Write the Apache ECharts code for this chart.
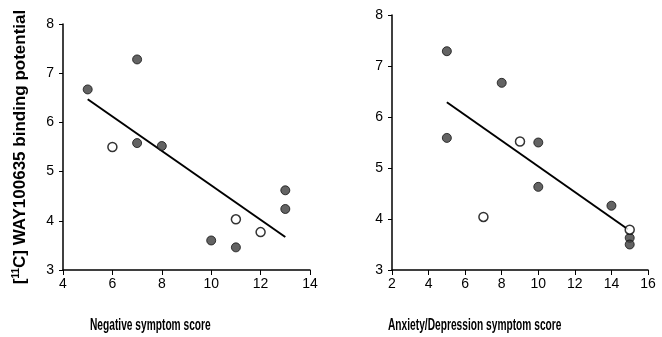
<!DOCTYPE html>
<html>
<head>
<meta charset="utf-8">
<script src="https://cdn.jsdelivr.net/npm/echarts@6/dist/echarts.min.js"></script>
<style>
  html, body { margin: 0; padding: 0; background: #fff; }
  #chart { width: 662px; height: 337px; }
</style>
</head>
<body>
<div id="chart"></div>
<script>
// negative symptom panel
const negFilledX = [5, 7, 7, 8, 10, 11, 13, 13];
const negFilledY = [6.67, 7.28, 5.58, 5.52, 3.6, 3.46, 4.62, 4.24];
const negOpenX = [6, 11, 12];
const negOpenY = [5.5, 4.03, 3.77];
const negFitX = [5, 13];
const negFitY = [6.47, 3.67];

// anxiety/depression panel
const anxFilledX = [5, 5, 8, 10, 10, 14, 15, 15];
const anxFilledY = [7.29, 5.59, 6.67, 5.5, 4.63, 4.26, 3.63, 3.5];
const anxOpenX = [9, 7, 15];
const anxOpenY = [5.52, 4.04, 3.79];
const anxFitX = [5, 14.9];
const anxFitY = [6.29, 3.8];

const yTitle = '[{sup|11}C] WAY100635 binding potential';
const xTitles = ['Negative symptom score', 'Anxiety/Depression symptom score'];

const zip = (xs, ys) => xs.map((x, i) => [x, ys[i]]);

const tickFont = {
  color: '#000',
  fontFamily: '"Liberation Sans", Arial, sans-serif',
  fontSize: 14
};

function xAxis(idx, min, max) {
  return {
    gridIndex: idx, type: 'value', min: min, max: max, interval: 2,
    axisLine: { lineStyle: { color: '#000', width: 1.5 } },
    axisTick: { inside: false, length: 5, lineStyle: { color: '#000' } },
    axisLabel: Object.assign({ margin: 7 }, tickFont),
    splitLine: { show: false }
  };
}

function yAxis(idx, withName) {
  const ax = {
    gridIndex: idx, type: 'value', min: 3, max: 8, interval: 1,
    axisLine: { show: true, lineStyle: { color: '#000', width: 1.5 } },
    axisTick: { show: true, inside: false, length: 4, lineStyle: { color: '#000' } },
    axisLabel: Object.assign({ margin: 9 }, tickFont),
    splitLine: { show: false }
  };
  if (withName) {
    ax.name = yTitle;
    ax.nameLocation = 'middle';
    ax.nameGap = 34;
    ax.nameTextStyle = {
      color: '#000', fontFamily: '"Liberation Sans", Arial, sans-serif',
      fontWeight: 'bold', fontSize: 17,
      rich: { sup: { fontSize: 10, fontWeight: 'bold', verticalAlign: 'top', padding: [0, 0, 8, 0] } }
    };
  }
  return ax;
}

const filledStyle = { color: '#3c3c3c', borderColor: '#111', borderWidth: 1 };
const openStyle = { color: '#fff', borderColor: '#000', borderWidth: 1.5 };

function panelSeries(idx, fx, fy, ox, oy, lx, ly) {
  return [
    { type: 'line', xAxisIndex: idx, yAxisIndex: idx, data: zip(lx, ly), showSymbol: false,
      lineStyle: { color: '#000', width: 2 }, z: 1 },
    { type: 'scatter', xAxisIndex: idx, yAxisIndex: idx, data: zip(fx, fy), symbolSize: 9,
      itemStyle: filledStyle, z: 3 },
    { type: 'scatter', xAxisIndex: idx, yAxisIndex: idx, data: zip(ox, oy), symbolSize: 9,
      itemStyle: openStyle, z: 3 }
  ];
}

const titleFont = 'bold 17px "Liberation Sans", Arial, sans-serif';

const chart = echarts.init(document.getElementById('chart'));
chart.setOption({
  animation: false,
  grid: [
    { left: 63, top: 24, width: 247, height: 246 },
    { left: 392, top: 15, width: 256, height: 255 }
  ],
  xAxis: [xAxis(0, 4, 14), xAxis(1, 2, 16)],
  yAxis: [yAxis(0, true), yAxis(1, false)],
  series: panelSeries(0, negFilledX, negFilledY, negOpenX, negOpenY, negFitX, negFitY)
    .concat(panelSeries(1, anxFilledX, anxFilledY, anxOpenX, anxOpenY, anxFitX, anxFitY)),
  graphic: [
    { type: 'text', x: 90, y: 317, scaleX: 0.6, style: { text: xTitles[0], fill: '#000', font: titleFont } },
    { type: 'text', x: 388, y: 317, scaleX: 0.6, style: { text: xTitles[1], fill: '#000', font: titleFont } }
  ]
});
</script>
</body>
</html>
